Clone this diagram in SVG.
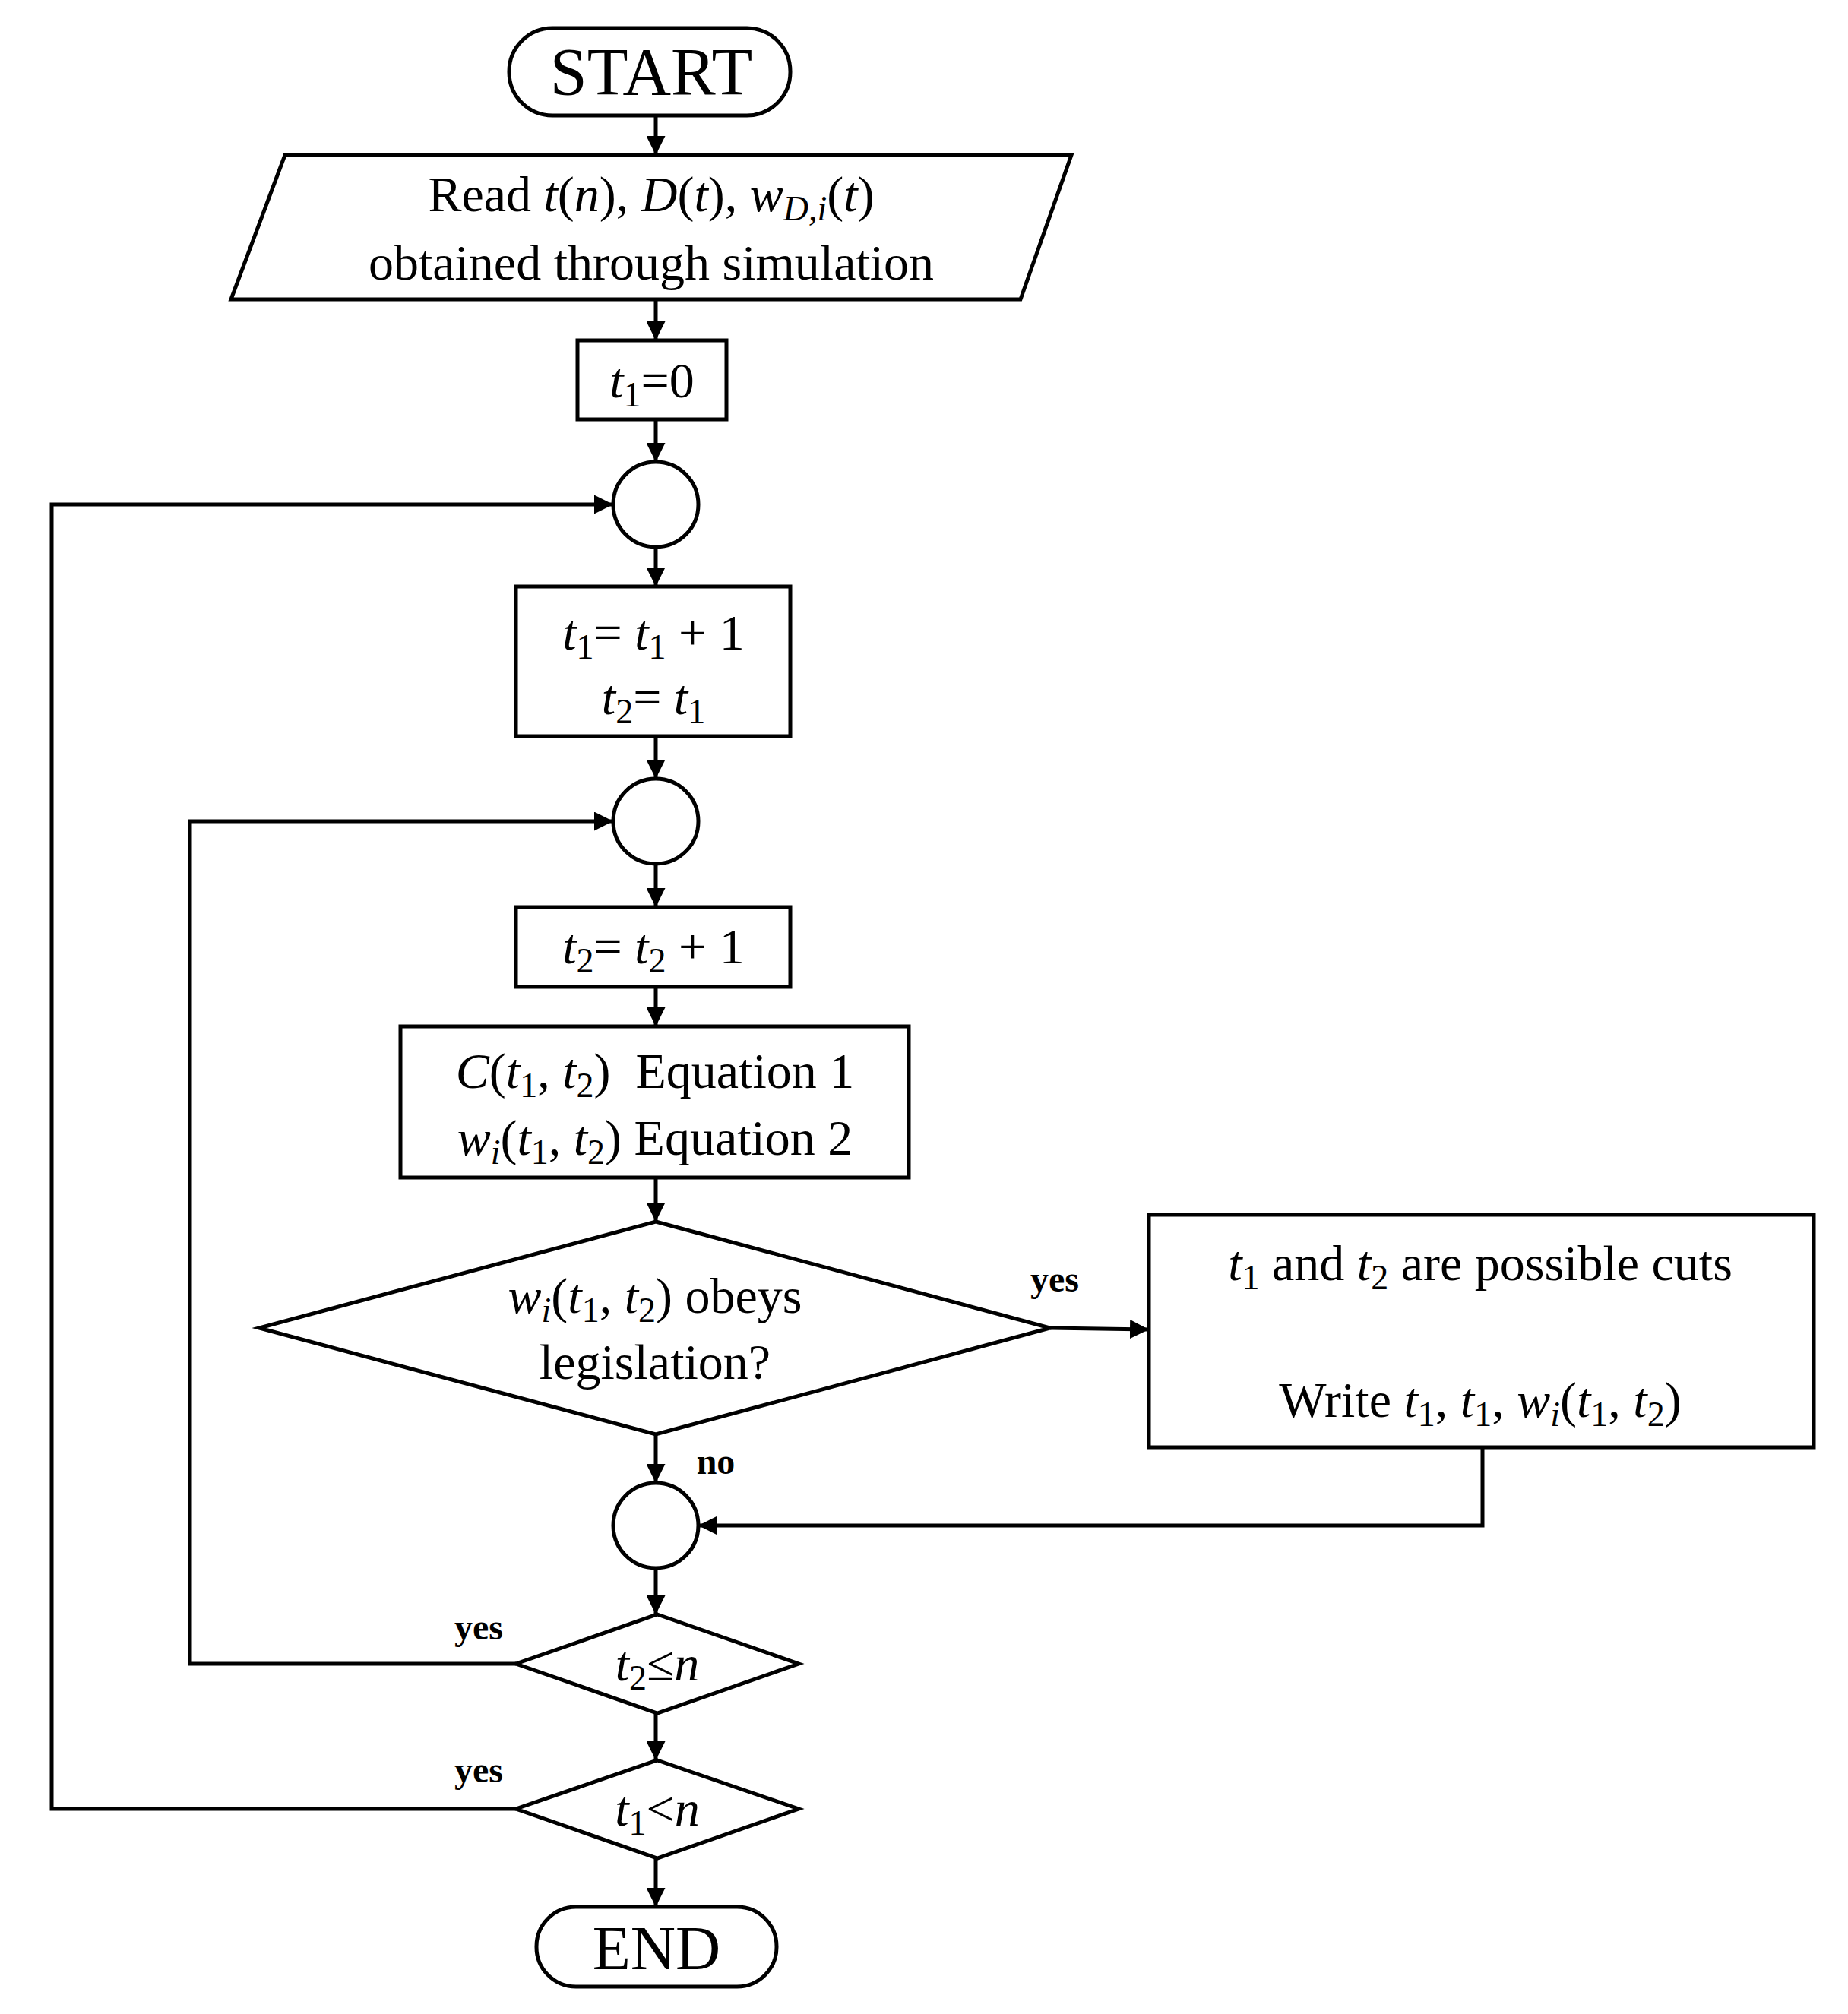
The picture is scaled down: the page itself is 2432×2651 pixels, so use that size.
<svg xmlns="http://www.w3.org/2000/svg" width="2432" height="2651" viewBox="0 0 2432 2651">
<style>
.s{fill:#fff;stroke:#000;stroke-width:5}
.c{fill:none;stroke:#000;stroke-width:5}
text{font-family:"Liberation Serif","Times New Roman",serif;font-size:66px;text-anchor:middle;fill:#000}
.i{font-style:italic}
.sb{font-size:46px}
.si{font-size:46px;font-style:italic}
.b{font-weight:bold;font-size:48px}
</style>
<defs><marker id="a" viewBox="0 0 10 10" refX="10" refY="5" markerWidth="5" markerHeight="5" orient="auto" markerUnits="strokeWidth"><path d="M0,0L10,5L0,10z" fill="#000"/></marker></defs>
<g id="connectors">
<path class="c" marker-end="url(#a)" d="M863 152V204"/>
<path class="c" marker-end="url(#a)" d="M863 394V448"/>
<path class="c" marker-end="url(#a)" d="M863 552V608"/>
<path class="c" marker-end="url(#a)" d="M863 720V772"/>
<path class="c" marker-end="url(#a)" d="M863 969V1025"/>
<path class="c" marker-end="url(#a)" d="M863 1137V1194"/>
<path class="c" marker-end="url(#a)" d="M863 1299V1351"/>
<path class="c" marker-end="url(#a)" d="M863 1550V1608"/>
<path class="c" marker-end="url(#a)" d="M863 1888V1952"/>
<path class="c" marker-end="url(#a)" d="M863 2064V2125"/>
<path class="c" marker-end="url(#a)" d="M863 2255V2317"/>
<path class="c" marker-end="url(#a)" d="M863 2446V2510"/>
<path class="c" marker-end="url(#a)" d="M1382 1748L1512 1750"/>
<path class="c" marker-end="url(#a)" d="M1951 1905V2008H919"/>
<path class="c" marker-end="url(#a)" d="M679 2190H250V1081H807"/>
<path class="c" marker-end="url(#a)" d="M679 2381H68V664H807"/>
<text class="b" x="1388" y="1700">yes</text>
<text class="b" x="942" y="1940">no</text>
<text class="b" x="630" y="2158">yes</text>
<text class="b" x="630" y="2346">yes</text>
</g>
<g id="start"><rect class="s" x="670" y="37" width="370" height="115" rx="57"/><text x="857" y="124" style="font-size:88px">START</text></g>
<g id="read"><polygon class="s" points="375,204 1410,204 1343,394 304,394"/>
<text x="857" y="278">Read <tspan class="i">t</tspan>(<tspan class="i">n</tspan>), <tspan class="i">D</tspan>(<tspan class="i">t</tspan>), <tspan class="i">w</tspan><tspan class="si" dy="12">D,i</tspan><tspan dy="-12">(</tspan><tspan class="i">t</tspan>)</text>
<text x="857" y="368">obtained through simulation</text></g>
<g id="init"><rect class="s" x="760" y="448" width="196" height="104"/><text x="858" y="523"><tspan class="i">t</tspan><tspan class="sb" dy="12">1</tspan><tspan dy="-12">=0</tspan></text></g>
<g id="c1"><circle class="s" cx="863" cy="664" r="56"/></g>
<g id="inc1"><rect class="s" x="679" y="772" width="361" height="197"/>
<text x="860" y="855"><tspan class="i">t</tspan><tspan class="sb" dy="12">1</tspan><tspan dy="-12">= </tspan><tspan class="i">t</tspan><tspan class="sb" dy="12">1</tspan><tspan dy="-12"> + 1</tspan></text>
<text x="860" y="940"><tspan class="i">t</tspan><tspan class="sb" dy="12">2</tspan><tspan dy="-12">= </tspan><tspan class="i">t</tspan><tspan class="sb" dy="12">1</tspan></text></g>
<g id="c2"><circle class="s" cx="863" cy="1081" r="56"/></g>
<g id="inc2"><rect class="s" x="679" y="1194" width="361" height="105"/>
<text x="860" y="1268"><tspan class="i">t</tspan><tspan class="sb" dy="12">2</tspan><tspan dy="-12">= </tspan><tspan class="i">t</tspan><tspan class="sb" dy="12">2</tspan><tspan dy="-12"> + 1</tspan></text></g>
<g id="eq"><rect class="s" x="527" y="1351" width="669" height="199"/>
<text x="862" y="1432" xml:space="preserve"><tspan class="i">C</tspan>(<tspan class="i">t</tspan><tspan class="sb" dy="12">1</tspan><tspan dy="-12">, </tspan><tspan class="i">t</tspan><tspan class="sb" dy="12">2</tspan><tspan dy="-12">)  Equation 1</tspan></text>
<text x="862" y="1520"><tspan class="i">w</tspan><tspan class="si" dy="12">i</tspan><tspan dy="-12">(</tspan><tspan class="i">t</tspan><tspan class="sb" dy="12">1</tspan><tspan dy="-12">, </tspan><tspan class="i">t</tspan><tspan class="sb" dy="12">2</tspan><tspan dy="-12">) Equation 2</tspan></text></g>
<g id="dec"><polygon class="s" points="863,1608 1382,1748 863,1888 341,1748"/>
<text x="862" y="1728"><tspan class="i">w</tspan><tspan class="si" dy="12">i</tspan><tspan dy="-12">(</tspan><tspan class="i">t</tspan><tspan class="sb" dy="12">1</tspan><tspan dy="-12">, </tspan><tspan class="i">t</tspan><tspan class="sb" dy="12">2</tspan><tspan dy="-12">) obeys</tspan></text>
<text x="862" y="1815">legislation?</text></g>
<g id="cuts"><rect class="s" x="1512" y="1599" width="875" height="306"/>
<text x="1948" y="1685"><tspan class="i">t</tspan><tspan class="sb" dy="12">1</tspan><tspan dy="-12"> and </tspan><tspan class="i">t</tspan><tspan class="sb" dy="12">2</tspan><tspan dy="-12"> are possible cuts</tspan></text>
<text x="1948" y="1865">Write <tspan class="i">t</tspan><tspan class="sb" dy="12">1</tspan><tspan dy="-12">, </tspan><tspan class="i">t</tspan><tspan class="sb" dy="12">1</tspan><tspan dy="-12">, </tspan><tspan class="i">w</tspan><tspan class="si" dy="12">i</tspan><tspan dy="-12">(</tspan><tspan class="i">t</tspan><tspan class="sb" dy="12">1</tspan><tspan dy="-12">, </tspan><tspan class="i">t</tspan><tspan class="sb" dy="12">2</tspan><tspan dy="-12">)</tspan></text></g>
<g id="c3"><circle class="s" cx="863" cy="2008" r="56"/></g>
<g id="d2"><polygon class="s" points="865,2125 1051,2190 865,2255 679,2190"/>
<text x="865" y="2212"><tspan class="i">t</tspan><tspan class="sb" dy="12">2</tspan><tspan dy="-12">≤</tspan><tspan class="i">n</tspan></text></g>
<g id="d3"><polygon class="s" points="865,2317 1051,2381 865,2446 679,2381"/>
<text x="865" y="2403"><tspan class="i">t</tspan><tspan class="sb" dy="12">1</tspan><tspan dy="-12">&lt;</tspan><tspan class="i">n</tspan></text></g>
<g id="end"><rect class="s" x="706" y="2510" width="316" height="105" rx="52"/><text x="864" y="2592" style="font-size:82px">END</text></g>
</svg>
